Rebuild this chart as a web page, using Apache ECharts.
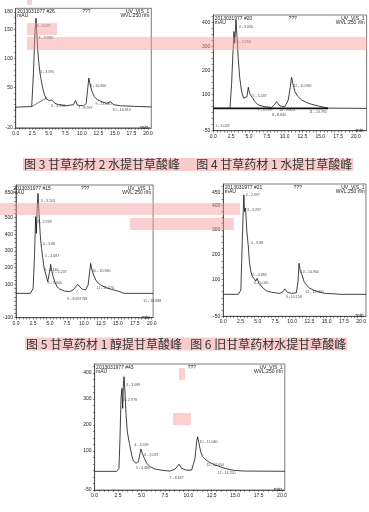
<!DOCTYPE html>
<html><head><meta charset="utf-8">
<script src="https://cdn.jsdelivr.net/npm/echarts@6/dist/echarts.min.js"></script>
<style>html,body{margin:0;padding:0;background:#fff}#c{width:369px;height:512px}</style>
</head><body><div id="c"></div>
<script>
// ---------- DATA ----------
const xTickLabels = [0, 2.5, 5, 7.5, 10, 12.5, 15, 17.5, 20];

// Panel 1 (图3)
const p1Time   = [0,2.42,2.68,2.88,2.98,3.08,3.18,3.33,3.48,3.64,3.84,4.09,4.34,4.60,4.85,5.10,5.45,5.71,5.96,6.46,7.73,8.74,9.04,9.34,10.25,10.66,10.86,11.06,11.26,11.52,11.87,12.37,13.03,13.79,14.29,14.80,15.81,17.83,20.5];
const p1Signal = [15.5,16.7,74,137,157,169,146,114,94,77,63,48,37,30,32,27,28,30,22,20,18,20,27,19,18,22,45,66,54,43,34,28,25,22,25,20,18,17,16];
const p1BaseTime = [2.42, 4.75];
const p1BaseVal  = [16.7, 32];
const p1YLabels = [-20, 50, 100, 150, 180];
const p1Peaks = [[2.98,156,'3 - 3.097'],[3.3,134,'4 - 3.380'],[3.55,77,'5 - 3.595'],[11.1,52,'8 - 10.960'],[5.2,17,'6 - 4.950'],[9.3,14,'7 - 8.997'],[11.9,21,'9 - 13.040'],[14.5,11,'10 - 14.910']];

// Panel 2 (图4)
const p2Time   = [0,2.34,2.57,2.71,2.90,2.99,3.18,3.32,3.50,3.69,3.97,4.25,4.53,4.72,4.91,5.09,5.37,5.84,6.31,7.24,8.18,8.55,8.88,9.35,10.05,10.51,10.79,10.98,11.21,11.45,11.82,12.38,13.08,13.79,14.72,16.12,21.5];
const p2Signal = [43,43,147,244,363,314,411,342,251,175,113,85,78,92,131,106,92,71,57,50,47,57,71,53,50,78,131,172,140,113,94,78,67,60,53,44,43];
const p2BaseTime = [0, 16.1];
const p2BaseVal  = [43, 43];
const p2YLabels = [-50, 100, 200, 300, 400];
const p2Peaks = [[3.45,383,'2 - 3.090'],[3.13,321,'3 - 3.294'],[5.37,94,'5 - 5.037'],[11.07,136,'12 - 10.980'],[0.14,-32,'1 - 1.028'],[6.07,36,'7 - 5.799'],[8.08,15,'8 - 8.840'],[9.1,36,'10 - 8.823'],[13.3,29,'11 - 13.792']];

// Panel 3 (图5)
const p3Time   = [0,2.14,2.52,2.71,2.90,3.00,3.14,3.24,3.38,3.57,3.76,3.95,4.14,4.43,4.67,4.86,5.00,5.10,5.29,5.48,5.71,6.05,6.43,7.14,7.86,8.43,8.81,9.10,9.38,9.76,10.24,10.62,10.86,11.00,11.19,11.43,11.76,12.14,12.62,13.33,14.05,15.00,15.95,20.2];
const p3Signal = [46,46,76,256,506,406,576,646,536,396,316,256,196,156,116,106,186,220,176,146,116,86,72,60,56,66,86,100,86,72,66,96,176,226,186,156,126,106,92,80,70,60,46,46];
const p3YLabels = [-100, 100, 200, 300, 400, 500, 650];
const p3Peaks = [[3.5,600,'3 - 3.103'],[3.0,472,'2 - 2.978'],[3.8,340,'4 - 3.88'],[4.14,272,'5 - 4.087'],[4.0,186,'6 - 4.730'],[5.24,172,'7 - 5.237'],[4.5,106,'8 - 5.340'],[11.1,180,'10 - 10.980'],[11.7,76,'11 - 11.570'],[7.4,12,'9 - 8.697 NS'],[18.6,0,'11 - 18.688']];

// Panel 4 (图6)
const p4Time   = [0,2.17,2.55,2.75,2.89,2.99,3.08,3.23,3.42,3.61,3.81,4.00,4.24,4.48,4.72,4.92,5.16,5.45,5.78,6.27,6.99,8.19,8.67,8.92,9.30,9.88,10.60,10.84,10.99,11.18,11.42,11.71,12.05,12.53,13.01,13.73,14.70,16.14,17.10,20.7];
const p4Signal = [39,39,57,253,374,442,374,388,293,239,165,131,111,104,93,104,84,77,64,53,47,43,50,61,47,43,45,91,165,131,118,91,77,64,57,50,43,41,39,39];
const p4YLabels = [-50, 100, 200, 300, 400, 450];
const p4Peaks = [[3.13,442,'2 - 2.997'],[3.28,381,'3 - 3.297'],[3.86,246,'4 - 3.88'],[4.1,118,'5 - 4.885'],[4.34,84,'6 - 5.030'],[11.1,131,'10 - 10.960'],[8.9,30,'9 - 10.158'],[11.8,50,'11 - 12.050']];

// Panel 5 (bottom)
const p5Time   = [0,2.36,2.60,2.71,2.82,2.92,3.00,3.07,3.14,3.24,3.35,3.49,3.71,3.96,4.13,4.42,4.67,4.85,4.95,5.09,5.31,5.56,5.91,6.45,7.16,8.05,8.58,9.01,9.29,9.83,10.36,10.72,10.89,11.00,11.14,11.32,11.53,11.78,12.14,12.67,13.20,13.92,14.81,15.87,20.3];
const p5Signal = [21.8,21.8,33,149,303,341,264,354,386,328,245,174,130,85,62,53,59,91,108,91,72,53,40,31,26,23,30,49,33,26,27,72,136,155,130,97,78,69,59,49,42,33,26,23,22];
const p5YLabels = [-50, 100, 200, 300, 400];
const p5Peaks = [[3.24,354,'3 - 3.089'],[2.9,296,'2 - 2.978'],[4.13,125,'4 - 3.599'],[5.2,85,'6 - 5.037'],[4.3,36,'5 - 4.480'],[11.1,133,'10 - 11.040'],[11.8,46,'11 - 12.050'],[13.0,14,'12 - 14.250'],[7.9,-2,'7 - 8.697']];

// ---------- LAYOUT ----------
const panels = [
  {t:p1Time, v:p1Signal, bt:p1BaseTime, bv:p1BaseVal, yl:p1YLabels, pk:p1Peaks, box:{left:15.7, top:8.3, width:135.6, height:119.5}, xMax:20.5, yMin:-20, yMax:186, yStep:10,
   head:['2013031077 #26','UV_VIS_1','WVL:250 nm']},
  {t:p2Time, v:p2Signal, bt:p2BaseTime, bv:p2BaseVal, yl:p2YLabels, pk:p2Peaks, box:{left:213.3, top:15, width:153.3, height:115.7}, xMax:21.5, yMin:-50, yMax:432, yStep:25,
   head:['2013031977 #20','UV_VIS_1','WVL:250 nm'], baseW:1.6},
  {t:p3Time, v:p3Signal, yl:p3YLabels, pk:p3Peaks, box:{left:11.7, top:185, width:141.4, height:132.7}, xMax:20.2, yMin:-100, yMax:696, yStep:25,
   head:['2013031977 #15','UV_VIS_1','WVL:250 nm']},
  {t:p4Time, v:p4Signal, yl:p4YLabels, pk:p4Peaks, box:{left:223.3, top:184, width:143.3, height:132.3}, xMax:20.7, yMin:-50, yMax:486, yStep:25,
   head:['2013031977 #21','UV_VIS_1','WVL:250 nm']},
  {t:p5Time, v:p5Signal, yl:p5YLabels, pk:p5Peaks, box:{left:94.6, top:364, width:190.2, height:126}, xMax:20.3, yMin:-50, yMax:435, yStep:25,
   head:['2013031977 #43','UV_VIS_1','WVL:250 nm']}
];

const INK = '#222';
const tinyFont = 'Liberation Sans';
const grids = [], xAxes = [], yAxes = [], series = [], titles = [];

function range(a, b, s) { const r = []; for (let x = a; x <= b + 1e-9; x += s) r.push(+x.toFixed(3)); return r; }

panels.forEach((p, i) => {
  const b = p.box;
  grids.push(Object.assign({show:true, borderColor:INK, borderWidth:0.6, backgroundColor:'transparent'}, b));
  xAxes.push({type:'value', gridIndex:i, min:0, max:p.xMax,
    axisLine:{onZero:false, lineStyle:{color:INK, width:0.6}},
    axisTick:{customValues:range(0, 20, 0.5), length:1.8, lineStyle:{color:INK, width:0.5}},
    axisLabel:{customValues:xTickLabels, formatter:v => v.toFixed(1), fontSize:5, margin:3, color:INK, fontFamily:tinyFont},
    splitLine:{show:false}});
  const yt = range(Math.ceil(p.yMin / p.yStep) * p.yStep, p.yMax, p.yStep);
  yAxes.push({type:'value', gridIndex:i, min:p.yMin, max:p.yMax,
    axisLine:{show:true, lineStyle:{color:INK, width:0.6}},
    axisTick:{customValues:yt, length:1.8, lineStyle:{color:INK, width:0.5}},
    axisLabel:{customValues:p.yl, fontSize:5, margin:3, color:INK, fontFamily:tinyFont},
    splitLine:{show:false}});
  series.push({type:'line', xAxisIndex:i, yAxisIndex:i, data:p.t.map((t, k) => [t, p.v[k]]),
    symbol:'none', lineStyle:{color:'#111', width:0.8}, z:3, animation:false});
  if (p.bt) series.push({type:'line', xAxisIndex:i, yAxisIndex:i, data:p.bt.map((t, k) => [t, p.bv[k]]),
    symbol:'none', lineStyle:{color:'#111', width:p.baseW || 0.6}, z:2, animation:false});
  series.push({type:'scatter', xAxisIndex:i, yAxisIndex:i, symbolSize:0, animation:false,
    data:p.pk.map(q => ({value:[q[0], q[1]], name:q[2]})),
    label:{show:true, position:'right', distance:1, formatter:'{b}', fontSize:3.6, color:INK, fontFamily:tinyFont}});
  const ts = {fontSize:5, color:INK, fontWeight:'normal', fontFamily:tinyFont};
  const right = 369 - (b.left + b.width) + 2;
  titles.push({text:p.head[0], left:b.left + 1.5, top:b.top + 1.2, padding:0, textStyle:ts});
  titles.push({text:'mAU', left:b.left + 1.5, top:b.top + 5.2, padding:0, textStyle:ts});
  titles.push({text:'???', left:b.left + b.width * 0.49, top:b.top + 1.2, padding:0, textStyle:ts});
  titles.push({text:p.head[1], right:right, top:b.top + 1.2, padding:0, textStyle:ts});
  titles.push({text:p.head[2], right:right, top:b.top + 5.2, padding:0, textStyle:ts});
  titles.push({text:'min', right:right + 1, top:b.top + b.height - 3, padding:0, textStyle:ts});
});

const capStyle = {fontSize:12, color:'#333', fontWeight:'normal', fontFamily:'Noto Sans CJK SC', lineHeight:13};
titles.push({text:'图 3 甘草药材 2 水提甘草酸峰      图 4 甘草药材 1 水提甘草酸峰', left:23, top:158, padding:[0,1,0,1], backgroundColor:'#f9cccc', textStyle:capStyle});
titles.push({text:'图 5 甘草药材 1 醇提甘草酸峰   图 6 旧甘草药材水提甘草酸峰', left:25, top:337.5, padding:[0,1,0,1], backgroundColor:'#f9cccc', textStyle:capStyle});

const pink = 'rgba(245,150,150,0.45)';
const rects = [[27,0,5,5],[27,23,30,12],[27,37,340,13],[0,203,240,12],[130,218,104,12],[179,368,6,12],[173,413,18,12]];
const graphics = rects.map(r => ({type:'rect', shape:{x:r[0], y:r[1], width:r[2], height:r[3]}, style:{fill:pink}, z:100, silent:true}));

const chart = echarts.init(document.getElementById('c'), null, {renderer:'canvas'});
chart.setOption({animation:false, backgroundColor:'#fff', title:titles, grid:grids, xAxis:xAxes, yAxis:yAxes, series:series, graphic:{elements:graphics}});
</script></body></html>
